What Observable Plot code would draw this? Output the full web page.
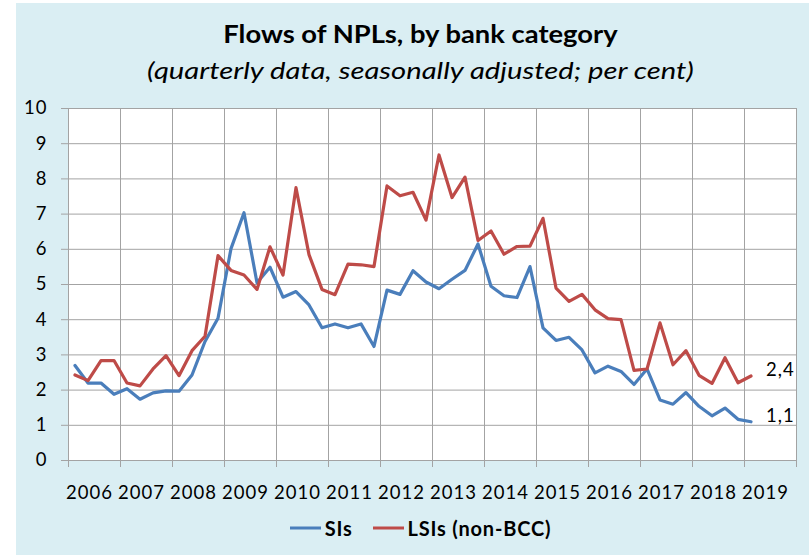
<!DOCTYPE html>
<html>
<head>
<meta charset="utf-8">
<script src="https://cdn.jsdelivr.net/npm/d3@7"></script>
<script src="https://cdn.jsdelivr.net/npm/@observablehq/plot@0.6"></script>
<style>
  body { margin: 0; background: #ffffff; font-family: Lato, "Open Sans", sans-serif; color: #000; }
  #panel { position: absolute; left: 16px; top: 3px; width: 793px; height: 552px; background: #DAEEF3; }
  .head { position: absolute; left: 16px; width: 809px; text-align: center; white-space: nowrap; transform-origin: 404.5px 50%; }
  #title { top: 22px; font-size: 24px; line-height: 24px; font-weight: 700; transform: scaleX(1.14); }
  #subtitle { top: 59px; font-size: 23px; line-height: 23px; font-style: italic; transform: scaleX(1.27); }
  #chart { position: absolute; left: 0; top: 90px; }
  #legend { position: absolute; left: 16px; top: 519px; width: 809px; display: flex; justify-content: center;
            align-items: center; font-size: 20px; line-height: 18px; font-weight: 700; letter-spacing: 0.8px; }
  #legend .item { display: flex; align-items: center; margin: 0 10px; }
  #legend svg { margin-right: 4px; }
</style>
</head>
<body>
<div id="panel"></div>
<div id="title" class="head">Flows of NPLs, by bank category</div>
<div id="subtitle" class="head">(quarterly data, seasonally adjusted; per cent)</div>
<div id="chart"></div>
<div id="legend"></div>
<script>
// Calendar years on the category axis
const years = [2006, 2007, 2008, 2009, 2010, 2011, 2012, 2013, 2014, 2015, 2016, 2017, 2018, 2019];
const quarters = [1, 2, 3, 4];
const yTicks = [0, 1, 2, 3, 4, 5, 6, 7, 8, 9, 10];

// Series names and colours
const seriesNames = ["SIs", "LSIs (non-BCC)"];
const seriesColors = ["#4A7EBB", "#BE4B48"];

// Quarterly NPL flow rates, 2006 Q1 – 2019 Q1 (per cent)
const siValues = [
  2.70, 2.20, 2.20, 1.88,
  2.04, 1.74, 1.92, 1.98,
  1.97, 2.43, 3.38, 4.04,
  6.02, 7.04, 5.05, 5.49,
  4.64, 4.80, 4.42, 3.77,
  3.88, 3.77, 3.88, 3.24,
  4.84, 4.72, 5.39, 5.07,
  4.88, 5.15, 5.40, 6.15,
  4.95, 4.68, 4.63, 5.51,
  3.77, 3.41, 3.50, 3.14,
  2.49, 2.68, 2.53, 2.16,
  2.60, 1.72, 1.60, 1.93,
  1.54, 1.27, 1.49, 1.17,
  1.1
];
const lsiValues = [
  2.43, 2.27, 2.84, 2.84,
  2.20, 2.12, 2.60, 2.98,
  2.41, 3.12, 3.53, 5.82,
  5.40, 5.27, 4.86, 6.07,
  5.27, 7.75, 5.85, 4.86,
  4.71, 5.58, 5.56, 5.51,
  7.80, 7.52, 7.62, 6.83,
  8.68, 7.47, 8.05, 6.25,
  6.52, 5.86, 6.08, 6.09,
  6.88, 4.90, 4.52, 4.72,
  4.28, 4.03, 4.00, 2.56,
  2.60, 3.91, 2.72, 3.12,
  2.42, 2.19, 2.92, 2.21,
  2.4
];

// Each quarter sits in the middle of its slot within the year
const periods = years.flatMap(y => quarters.map(q => ({year: y, q, t: y + (q - 0.5) / 4})));
const rows = [];
[siValues, lsiValues].forEach((vals, k) => {
  vals.forEach((v, i) => rows.push({t: periods[i].t, v, s: seriesNames[k]}));
});
const lastRows = seriesNames.map((s, k) => rows.filter(r => r.s === s).at(-1));

const yearBounds = [...years, years.at(-1) + 1];
const gridColor = "#a3a3a3";
const fmt = v => v.toFixed(1).replace(".", ",");

const chart = Plot.plot({
  width: 809,
  height: 420,
  marginLeft: 68,
  marginRight: 13,
  marginTop: 18,
  marginBottom: 50,
  style: {
    background: "transparent", fontFamily: "Lato, 'Open Sans', sans-serif",
    fontSize: "18.5px", letterSpacing: "1px", color: "#000"
  },
  x: {domain: [years[0], years.at(-1) + 1]},
  y: {domain: [0, 10]},
  color: {domain: seriesNames, range: seriesColors},
  marks: [
    Plot.frame({fill: "white", stroke: null}),
    Plot.gridY(yTicks, {stroke: gridColor, strokeOpacity: 1}),
    Plot.gridX(yearBounds, {stroke: gridColor, strokeOpacity: 1}),
    Plot.axisY(yTicks, {tickSize: 7, tickPadding: 14, stroke: gridColor, fill: "#000", label: null}),
    Plot.axisX(yearBounds, {tickSize: 7, tickFormat: () => "", stroke: gridColor, label: null}),
    Plot.axisX(years.map(y => y + 0.5), {
      tickSize: 0, tickPadding: 25, dx: -5, fill: "#000", label: null,
      tickFormat: d => String(Math.floor(d))
    }),
    Plot.line(rows, {x: "t", y: "v", z: "s", stroke: "s", strokeWidth: 3.2, strokeLinejoin: "round"}),
    Plot.text(lastRows, {
      x: "t", y: "v", text: d => fmt(d.v), dx: 15, dy: -6, textAnchor: "start", fill: "#000", fontSize: 18.5
    })
  ]
});
document.getElementById("chart").appendChild(chart);

// Legend built from the series names and colours
const legend = d3.select("#legend");
seriesNames.forEach((name, k) => {
  const item = legend.append("div").attr("class", "item");
  const sw = item.append("svg").attr("width", 31).attr("height", 10);
  sw.append("line").attr("x1", 0).attr("x2", 31).attr("y1", 5).attr("y2", 5)
    .attr("stroke", seriesColors[k]).attr("stroke-width", 3);
  item.append("span").text(name);
});
</script>
</body>
</html>
